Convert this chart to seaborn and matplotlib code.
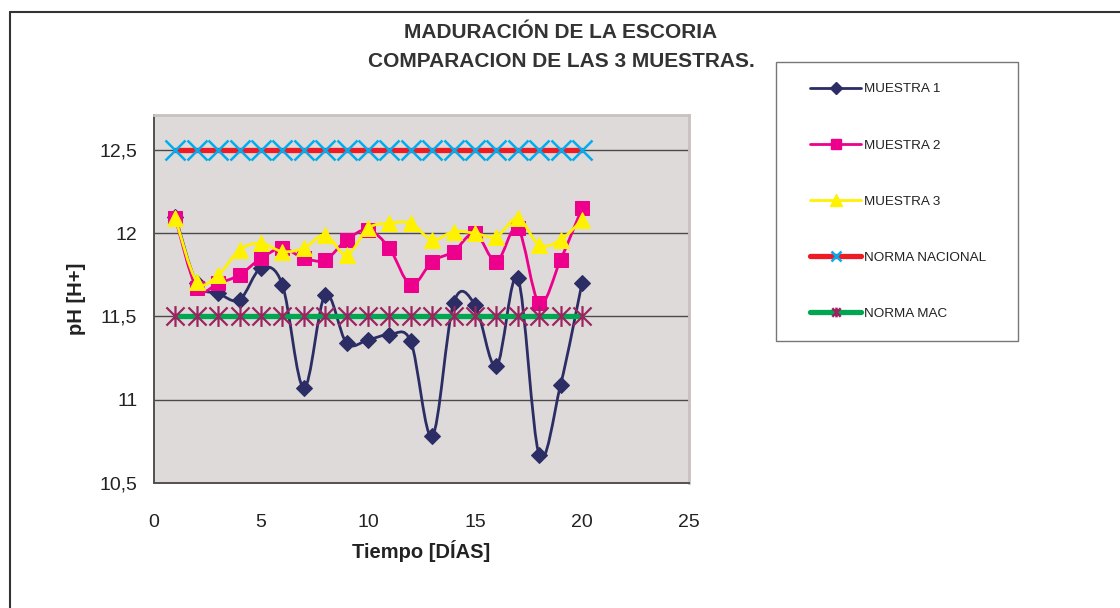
import numpy as np
import pandas as pd
import matplotlib
matplotlib.use("Agg")
import matplotlib.pyplot as plt
from matplotlib.path import Path
from matplotlib.patches import PathPatch
from matplotlib.lines import Line2D
from matplotlib.legend_handler import HandlerLine2D
import seaborn as sns

# ---------------- data ----------------
dias = [1, 2, 3, 4, 5, 6, 7, 8, 9, 10, 11, 12, 13, 14, 15, 16, 17, 18, 19, 20]
muestra1 = [12.10, 11.70, 11.64, 11.60, 11.79, 11.69, 11.07, 11.63, 11.34, 11.36,
            11.39, 11.35, 10.78, 11.58, 11.57, 11.20, 11.73, 10.67, 11.09, 11.70]
muestra2 = [12.09, 11.67, 11.70, 11.75, 11.85, 11.91, 11.85, 11.84, 11.96, 12.02,
            11.91, 11.69, 11.83, 11.89, 12.00, 11.83, 12.03, 11.58, 11.84, 12.15]
muestra3 = [12.09, 11.71, 11.75, 11.90, 11.94, 11.89, 11.91, 11.99, 11.87, 12.03,
            12.06, 12.06, 11.96, 12.01, 12.00, 11.98, 12.09, 11.93, 11.96, 12.08]
norma_nacional = [12.5] * 20
norma_mac = [11.5] * 20

series_names = ["MUESTRA 1", "MUESTRA 2", "MUESTRA 3", "NORMA NACIONAL", "NORMA MAC"]
x_ticks = [0, 5, 10, 15, 20, 25]
x_tick_labels = ["0", "5", "10", "15", "20", "25"]
y_ticks = [10.5, 11, 11.5, 12, 12.5]
y_tick_labels = ["10,5", "11", "11,5", "12", "12,5"]
title = "MADURACIÓN DE LA ESCORIA\nCOMPARACION DE LAS 3 MUESTRAS."
xlabel = "Tiempo [DÍAS]"
ylabel = "pH [H+]"

# ---------------- style ----------------
sns.set_style("white")
plt.rcParams["font.family"] = ["Liberation Sans", "DejaVu Sans"]
TXT = "#222222"

c_m1 = "#2b2d64"
c_m2 = "#ec008c"
c_m3 = "#fff200"
c_nn_line = "#ed1c24"
c_nn_mark = "#00aeef"
c_mac_line = "#00a651"
c_mac_mark = "#9b2461"

# asterisk marker (X with vertical bar)
star_path = Path(
    [(-1, -1), (1, 1), (-1, 1), (1, -1), (0, -1.15), (0, 1.15)],
    [Path.MOVETO, Path.LINETO, Path.MOVETO, Path.LINETO, Path.MOVETO, Path.LINETO],
)

fig = plt.figure(figsize=(11.2, 6.08), dpi=100)
fig.patch.set_facecolor("white")
ax = fig.add_axes([154 / 1120, 125 / 608, 535 / 1120, 368 / 608])
ax.set_facecolor("#dedad9")


def smooth_path(xs, ys):
    """Excel-style smoothed curve through the data points (cubic Bezier)."""
    p = np.column_stack([xs, ys]).astype(float)
    pts = np.vstack([p[0], p, p[-1]])
    verts = [tuple(p[0])]
    codes = [Path.MOVETO]
    for i in range(1, len(pts) - 2):
        p0, p1, p2, p3 = pts[i - 1], pts[i], pts[i + 1], pts[i + 2]
        c1 = p1 + (p2 - p0) / 6.0
        c2 = p2 - (p3 - p1) / 6.0
        verts += [tuple(c1), tuple(c2), tuple(p2)]
        codes += [Path.CURVE4] * 3
    return Path(verts, codes)


def draw_series(ys, color, lw, z):
    patch = PathPatch(smooth_path(dias, ys), facecolor="none", edgecolor=color,
                      lw=lw, zorder=z, capstyle="round", joinstyle="round")
    ax.add_patch(patch)


# sample series: smoothed lines + markers
draw_series(muestra1, c_m1, 2.0, 3)
sns.lineplot(x=dias, y=muestra1, ax=ax, linestyle="none", marker="D", markersize=8.5,
             color=c_m1, markeredgecolor=c_m1, zorder=3.5)
draw_series(muestra2, c_m2, 2.0, 4)
sns.lineplot(x=dias, y=muestra2, ax=ax, linestyle="none", marker="s", markersize=9.5,
             color=c_m2, markeredgecolor=c_m2, zorder=4.5)
draw_series(muestra3, c_m3, 2.0, 5)
sns.lineplot(x=dias, y=muestra3, ax=ax, linestyle="none", marker="^", markersize=12,
             color=c_m3, markeredgecolor=c_m3, zorder=5.5)

# norms
sns.lineplot(x=dias, y=norma_nacional, ax=ax, color=c_nn_line, lw=3.8, zorder=6)
sns.lineplot(x=dias, y=norma_nacional, ax=ax, linestyle="none", marker="x",
             markersize=15, markeredgewidth=1.8, color=c_nn_mark,
             markeredgecolor=c_nn_mark, zorder=6.5)
sns.lineplot(x=dias, y=norma_mac, ax=ax, color=c_mac_line, lw=3.8, zorder=6)
sns.lineplot(x=dias, y=norma_mac, ax=ax, linestyle="none", marker=star_path,
             markersize=15, markeredgewidth=1.6, markerfacecolor="none",
             color=c_mac_mark, markeredgecolor=c_mac_mark, zorder=6.5)

# axes
ax.set_xlim(0, 25)
ax.set_ylim(10.5, 12.71)
ax.set_xticks(x_ticks)
ax.set_xticklabels(x_tick_labels)
ax.set_yticks(y_ticks)
ax.set_yticklabels(y_tick_labels)
ax.tick_params(axis="both", direction="out", length=6, width=1.2, color="#444444",
               labelsize=14, labelcolor=TXT)
ax.tick_params(axis="x", pad=16.5)
ax.tick_params(axis="y", pad=6)
for yv in y_ticks[1:]:
    ax.axhline(yv, color="#4a4a4a", lw=1.0, zorder=1)
for side in ["left", "bottom"]:
    ax.spines[side].set_color("#555050")
    ax.spines[side].set_linewidth(1.4)
for side in ["top", "right"]:
    ax.spines[side].set_color("#c9c1c0")
    ax.spines[side].set_linewidth(2.0)
    ax.spines[side].set_visible(True)

ax.set_xlabel(xlabel, fontsize=14.5, fontweight="bold", color=TXT, labelpad=6.5)
ax.set_ylabel(ylabel, fontsize=14.5, fontweight="bold", color=TXT, labelpad=10)

fig.text(561 / 1120, 1 - 47 / 608, title, ha="center", va="center",
         fontsize=15, fontweight="bold", color="#333333", linespacing=1.62)

# legend
handles = [
    Line2D([], [], color=c_m1, lw=2.0, marker="D", markersize=6),
    Line2D([], [], color=c_m2, lw=2.0, marker="s", markersize=7),
    Line2D([], [], color=c_m3, lw=2.0, marker="^", markersize=8),
    Line2D([], [], color=c_nn_line, lw=3.8, marker="x", markersize=7,
           markeredgewidth=1.8, markeredgecolor=c_nn_mark),
    Line2D([], [], color=c_mac_line, lw=3.8, marker=star_path, markersize=7,
           markeredgewidth=1.8, markerfacecolor="none", markeredgecolor=c_mac_mark),
]
leg = fig.legend(handles, series_names, loc="upper left",
                 bbox_to_anchor=(776 / 1120, 1 - 62 / 608, 242 / 1120, 0.0),
                 mode="expand", borderaxespad=0, fontsize=9.7, frameon=True,
                 fancybox=False, edgecolor="#555555", labelspacing=3.25,
                 borderpad=1.55, handlelength=4.75, handletextpad=0.22,
                 labelcolor=TXT,
                 handler_map={Line2D: HandlerLine2D(xpad=1.0)})
leg.get_frame().set_linewidth(1.0)

# outer frame (chart area border)
fig.add_artist(Line2D([10 / 1120, 10 / 1120], [0, 1 - 12 / 608],
                      transform=fig.transFigure, color="#333333", lw=1.5))
fig.add_artist(Line2D([10 / 1120, 1], [1 - 12 / 608, 1 - 12 / 608],
                      transform=fig.transFigure, color="#333333", lw=1.5))

fig.savefig("out.png", dpi=100)
